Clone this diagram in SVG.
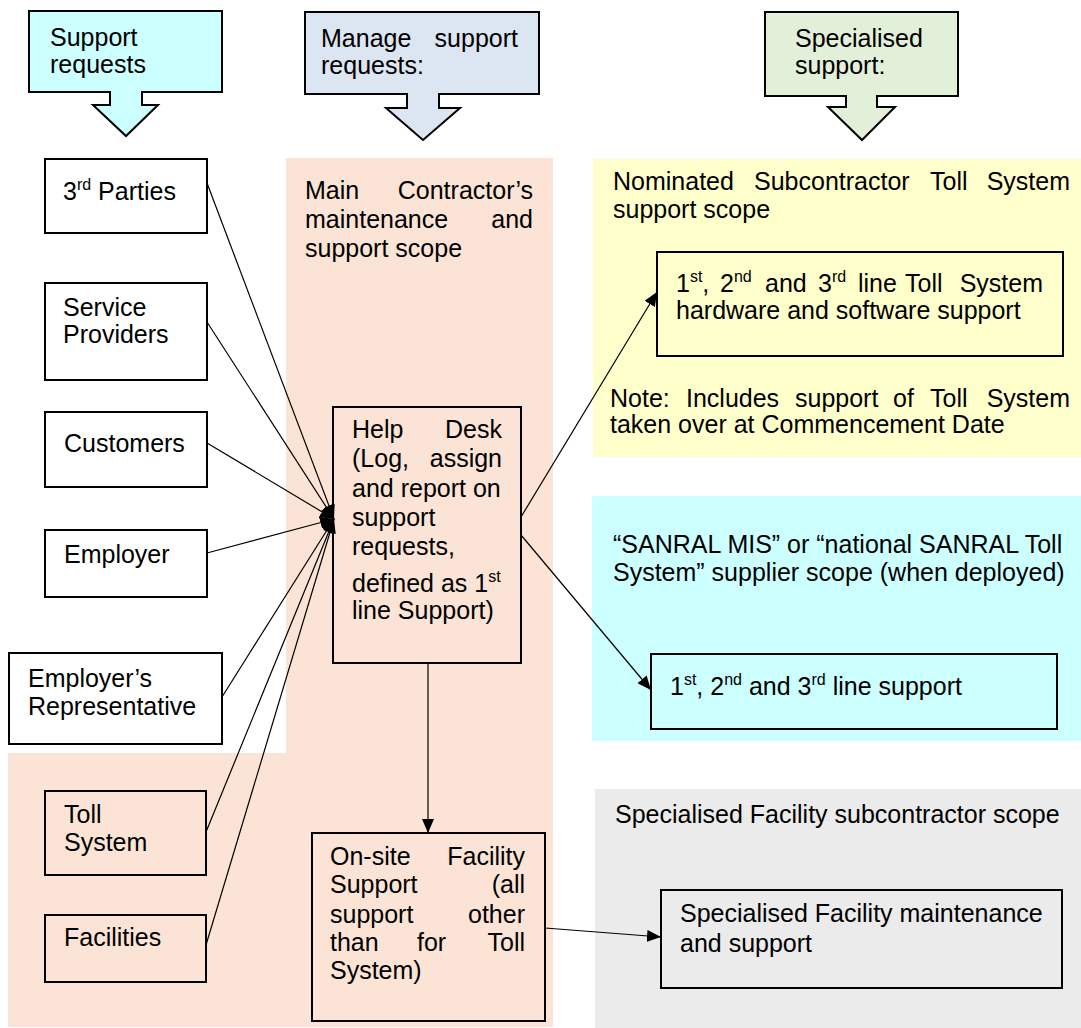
<svg xmlns="http://www.w3.org/2000/svg" width="1081" height="1028" viewBox="0 0 1081 1028">
<defs>
<style>
text{font-family:"Liberation Sans",Arial,sans-serif;font-size:25px;fill:#000}
.sup{font-size:16px}
.box{fill:none;stroke:#000;stroke-width:2}
.wbox{fill:#fff;stroke:#000;stroke-width:2}
.call{stroke:#000;stroke-width:2;stroke-linejoin:miter}
.conn{fill:none;stroke:#000;stroke-width:1.2}
</style>
<marker id="arr" viewBox="0 0 14 12" refX="14" refY="6" markerWidth="14" markerHeight="12" markerUnits="userSpaceOnUse" orient="auto">
<path d="M0,0 L14,6 L0,12 Z" fill="#000"/>
</marker>
</defs>
<rect width="1081" height="1028" fill="#fff"/>

<g id="regions">
<path id="region-main" d="M286,158 H553 V1027 H8 V753 H286 Z" fill="#FBE4D5"/>
<rect id="region-nominated" x="593" y="159" width="488" height="298" fill="#FFFFCC"/>
<rect id="region-sanral" x="592" y="496" width="489" height="245" fill="#CCFFFF"/>
<rect id="region-facility" x="595" y="789" width="486" height="239" fill="#EBEBEB"/>
</g>

<g id="header-support-requests">
<path class="call" fill="#CCFFFF" d="M29,11 H222 V92 H142 V105 H158 L126,136 L93,105 H110 V92 H29 Z"/>
<text x="50" y="46">Support</text>
<text x="50" y="73">requests</text>
</g>
<g id="header-manage">
<path class="call" fill="#DCE6F2" d="M305,12 H539 V94 H439 V108 H460 L423,140 L386,108 H407 V94 H305 Z"/>
<text x="321" y="47">Manage</text>
<text x="518" y="47" text-anchor="end">support</text>
<text x="321" y="74">requests:</text>
</g>
<g id="header-specialised">
<path class="call" fill="#E2EFD9" d="M765,12 H958 V96 H877 V107 H895 L862,140 L828,107 H846 V96 H765 Z"/>
<text x="795" y="47">Specialised</text>
<text x="795" y="74">support:</text>
</g>

<g id="label-main-scope">
<text x="305" y="199">Main</text>
<text x="533" y="199" text-anchor="end">Contractor’s</text>
<text x="305" y="228">maintenance</text>
<text x="533" y="228" text-anchor="end">and</text>
<text x="305" y="257">support scope</text>
</g>
<g id="label-nominated-scope">
<text y="190"><tspan x="613">Nominated</tspan><tspan x="754">Subcontractor</tspan><tspan x="930">Toll</tspan></text>
<text x="1070" y="190" text-anchor="end">System</text>
<text x="613" y="218">support scope</text>
<text y="407"><tspan x="610">Note:</tspan><tspan x="686">Includes</tspan><tspan x="795">support</tspan><tspan x="893">of</tspan><tspan x="930">Toll</tspan></text>
<text x="1070" y="407" text-anchor="end">System</text>
<text x="610" y="433">taken over at Commencement Date</text>
</g>
<g id="label-sanral-scope">
<text x="613" y="553">“SANRAL MIS” or “national SANRAL Toll</text>
<text x="613" y="581">System” supplier scope (when deployed)</text>
</g>
<g id="label-facility-scope">
<text x="615" y="823">Specialised Facility subcontractor scope</text>
</g>

<g id="node-3rd-parties">
<rect class="wbox" x="45" y="159" width="162" height="74"/>
<text x="63" y="200">3<tspan class="sup" dy="-10">rd</tspan><tspan dy="10"> Parties</tspan></text>
</g>
<g id="node-service-providers">
<rect class="wbox" x="45" y="283" width="162" height="97"/>
<text x="63" y="316">Service</text>
<text x="63" y="343">Providers</text>
</g>
<g id="node-customers">
<rect class="wbox" x="45" y="412" width="162" height="75"/>
<text x="64" y="452">Customers</text>
</g>
<g id="node-employer">
<rect class="wbox" x="45" y="530" width="162" height="67"/>
<text x="64" y="563">Employer</text>
</g>
<g id="node-employers-rep">
<rect class="wbox" x="9" y="653" width="213" height="91"/>
<text x="28" y="687">Employer’s</text>
<text x="28" y="715">Representative</text>
</g>
<g id="node-toll-system">
<rect class="box" x="45" y="791" width="161" height="84"/>
<text x="64" y="823">Toll</text>
<text x="64" y="851">System</text>
</g>
<g id="node-facilities">
<rect class="box" x="45" y="915" width="161" height="67"/>
<text x="64" y="946">Facilities</text>
</g>

<g id="node-help-desk">
<rect class="box" x="333" y="407" width="188" height="256"/>
<text x="352" y="438">Help</text>
<text x="502" y="438" text-anchor="end">Desk</text>
<text x="352" y="467">(Log,</text>
<text x="502" y="467" text-anchor="end">assign</text>
<text x="352" y="497">and report on</text>
<text x="352" y="526">support</text>
<text x="352" y="555">requests,</text>
<text x="352" y="592">defined as 1<tspan class="sup" dy="-10">st</tspan></text>
<text x="352" y="619">line Support)</text>
</g>

<g id="node-onsite">
<rect class="box" x="312" y="833" width="233" height="188"/>
<text x="330" y="865">On-site</text>
<text x="525" y="865" text-anchor="end">Facility</text>
<text x="330" y="893">Support</text>
<text x="525" y="893" text-anchor="end">(all</text>
<text x="330" y="923">support</text>
<text x="525" y="923" text-anchor="end">other</text>
<text y="951"><tspan x="330">than</tspan><tspan x="417">for</tspan></text>
<text x="525" y="951" text-anchor="end">Toll</text>
<text x="330" y="979">System)</text>
</g>

<g id="node-toll-support">
<rect class="box" x="657" y="252" width="406" height="104"/>
<text y="292"><tspan x="676">1</tspan><tspan class="sup" dy="-10">st</tspan><tspan dy="10">,</tspan><tspan x="720">2</tspan><tspan class="sup" dy="-10">nd</tspan><tspan x="765" dy="10">and</tspan><tspan x="818">3</tspan><tspan class="sup" dy="-10">rd</tspan><tspan x="858" dy="10">line</tspan><tspan x="905">Toll</tspan></text>
<text x="1043" y="292" text-anchor="end">System</text>
<text x="676" y="319">hardware and software support</text>
</g>

<g id="node-sanral-support">
<rect class="box" x="651" y="654" width="406" height="75"/>
<text x="670" y="695">1<tspan class="sup" dy="-10">st</tspan><tspan dy="10">, 2</tspan><tspan class="sup" dy="-10">nd</tspan><tspan dy="10"> and 3</tspan><tspan class="sup" dy="-10">rd</tspan><tspan dy="10"> line support</tspan></text>
</g>

<g id="node-facility-support">
<rect class="box" x="661" y="890" width="401" height="98"/>
<text x="680" y="922">Specialised Facility maintenance</text>
<text x="680" y="952">and support</text>
</g>

<g id="connectors">
<line class="conn" x1="207" y1="183" x2="334" y2="519" marker-end="url(#arr)"/>
<line class="conn" x1="207" y1="322" x2="334" y2="519" marker-end="url(#arr)"/>
<line class="conn" x1="207" y1="443" x2="334" y2="519" marker-end="url(#arr)"/>
<line class="conn" x1="207" y1="553" x2="334" y2="519" marker-end="url(#arr)"/>
<line class="conn" x1="222" y1="697" x2="334" y2="519" marker-end="url(#arr)"/>
<line class="conn" x1="206" y1="832" x2="334" y2="519" marker-end="url(#arr)"/>
<line class="conn" x1="206" y1="945" x2="334" y2="519" marker-end="url(#arr)"/>
<line class="conn" x1="521" y1="517" x2="657" y2="292" marker-end="url(#arr)"/>
<line class="conn" x1="521" y1="535" x2="651" y2="690" marker-end="url(#arr)"/>
<line class="conn" x1="428" y1="663" x2="428" y2="833" marker-end="url(#arr)"/>
<line class="conn" x1="545" y1="928" x2="661" y2="937" marker-end="url(#arr)"/>
</g>
</svg>
